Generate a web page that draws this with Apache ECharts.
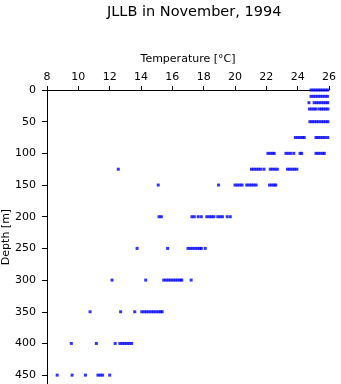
<!DOCTYPE html>
<html><head><meta charset="utf-8">
<script src="https://cdn.jsdelivr.net/npm/echarts@6/dist/echarts.min.js"></script>
<style>html,body{margin:0;padding:0;background:#fff}#c{width:341px;height:384px}</style>
</head><body><div id="c"></div>
<script>
const titleText = "JLLB in November, 1994";
const xName = "Temperature [°C]";
const yName = "Depth [m]";
const depthTicks = [0, 50, 100, 150, 200, 250, 300, 350, 400, 450];
const depthLevels = [0, 10, 20, 30, 50, 75, 100, 125, 150, 200, 250, 300, 350, 400, 450];
const tempsAtDepth = [
  [24.85, 25.0, 25.15, 25.3, 25.45, 25.6, 25.75, 25.9],
  [24.85, 25.0, 25.15, 25.3, 25.45, 25.6, 25.75, 25.9],
  [24.72, 25.05, 25.2, 25.35, 25.5, 25.65, 25.8, 25.92],
  [24.75, 24.9, 25.05, 25.18, 25.38, 25.52, 25.66, 25.8, 25.93],
  [24.78, 24.92, 25.05, 25.2, 25.35, 25.5, 25.65, 25.8, 25.93],
  [23.85, 24.0, 24.15, 24.3, 24.42, 25.17, 25.3, 25.45, 25.6, 25.75, 25.92],
  [22.1, 22.25, 22.4, 22.5, 23.25, 23.4, 23.55, 23.75, 24.15, 24.25, 25.17, 25.3, 25.45, 25.6, 25.7],
  [12.55, 21.05, 21.2, 21.35, 21.5, 21.65, 21.85, 22.25, 22.4, 22.55, 22.7, 23.35, 23.5, 23.65, 23.8, 23.95],
  [15.1, 18.95, 20.0, 20.15, 20.3, 20.45, 20.75, 20.9, 21.05, 21.2, 21.35, 22.2, 22.35, 22.5, 22.6],
  [15.15, 15.3, 17.25, 17.4, 17.65, 17.85, 18.2, 18.35, 18.5, 18.65, 18.9, 19.05, 19.2, 19.5, 19.7],
  [13.75, 15.7, 17.0, 17.15, 17.3, 17.45, 17.6, 17.75, 17.85, 18.1],
  [12.15, 14.3, 15.45, 15.6, 15.75, 15.9, 16.05, 16.2, 16.35, 16.5, 16.6, 17.2],
  [10.75, 12.7, 13.6, 14.05, 14.2, 14.35, 14.5, 14.65, 14.8, 14.95, 15.1, 15.25, 15.35],
  [9.55, 11.15, 12.35, 12.65, 12.8, 12.95, 13.1, 13.25, 13.4],
  [8.65, 9.6, 10.45, 11.25, 11.4, 11.55, 12.0]
];

const points = [];
depthLevels.forEach((d, i) => tempsAtDepth[i].forEach(t => points.push([t, d])));

const font = "'DejaVu Sans', 'Liberation Sans', sans-serif";
const chart = echarts.init(document.getElementById('c'), null, {renderer: 'canvas'});
chart.setOption({
  animation: false,
  backgroundColor: '#fff',
  title: {
    text: titleText, left: 102, top: 0,
    textStyle: {fontFamily: font, fontSize: 14.5, fontWeight: 'normal', color: '#000'}
  },
  grid: {left: 47, right: 12, top: 90, bottom: 0, containLabel: false, outerBoundsMode: 'none'},
  xAxis: {
    type: 'value', position: 'top', min: 8, max: 26, interval: 2,
    name: xName, nameLocation: 'middle', nameGap: 25, nameMoveOverlap: false,
    nameTextStyle: {fontFamily: font, fontSize: 11, color: '#000'},
    axisLine: {show: true, lineStyle: {color: '#000', width: 1}},
    axisTick: {show: true, inside: false, length: 4, lineStyle: {color: '#000'}},
    axisLabel: {fontFamily: font, fontSize: 11, color: '#000', margin: 7},
    splitLine: {show: false}
  },
  yAxis: {
    type: 'value', inverse: true, min: 0, max: 464,
    name: yName, nameLocation: 'middle', nameGap: 35, nameMoveOverlap: false,
    nameTextStyle: {fontFamily: font, fontSize: 11, color: '#000'},
    axisLine: {show: true, lineStyle: {color: '#000', width: 1}},
    axisTick: {show: true, inside: false, length: 5, customValues: depthTicks, lineStyle: {color: '#000'}},
    axisLabel: {fontFamily: font, fontSize: 11, color: '#000', margin: 11, customValues: depthTicks},
    splitLine: {show: false}
  },
  series: [{
    type: 'scatter',
    data: points,
    symbol: 'rect',
    symbolSize: 3,
    itemStyle: {color: '#0000ff'}
  }]
});
</script>
</body></html>
